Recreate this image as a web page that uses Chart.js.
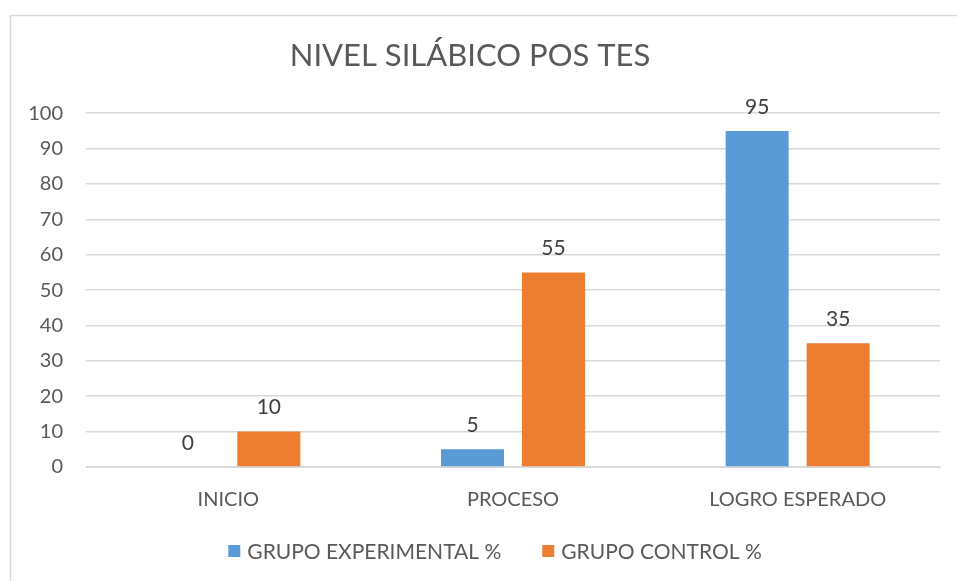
<!DOCTYPE html>
<html>
<head>
<meta charset="utf-8">
<script src="https://cdn.jsdelivr.net/npm/chart.js@4/dist/chart.umd.min.js"></script>
<style>
  html, body { margin: 0; padding: 0; background: #fff; }
  #wrap { width: 957px; height: 581px; position: relative; }
</style>
</head>
<body>
<div id="wrap"><canvas id="c" width="957" height="581"></canvas></div>
<script>
const categories = ["INICIO", "PROCESO", "LOGRO ESPERADO"];
const experimental = [0, 5, 95];
const control = [10, 55, 35];
const seriesNames = ["GRUPO EXPERIMENTAL %", "GRUPO CONTROL %"];
const seriesColors = ["#5b9bd5", "#ed7d31"];

const FONT = "Lato, 'Open Sans', sans-serif";
const TEXT = "#595959";

// frame around the chart, like the office chart border
const frame = {
  id: "frame",
  beforeDraw(chart) {
    const ctx = chart.ctx;
    ctx.save();
    ctx.strokeStyle = "#d9d9d9";
    ctx.lineWidth = 1.5;
    ctx.beginPath();
    ctx.moveTo(10.5, 600);
    ctx.lineTo(10.5, 15.5);
    ctx.lineTo(960, 15.5);
    ctx.stroke();
    ctx.restore();
  },
};

// value labels above each bar
const valueLabels = {
  id: "valueLabels",
  afterDatasetsDraw(chart) {
    const ctx = chart.ctx;
    ctx.save();
    ctx.font = "21px " + FONT;
    ctx.fillStyle = "#404040";
    ctx.textAlign = "center";
    ctx.textBaseline = "middle";
    chart.data.datasets.forEach((ds, i) => {
      chart.getDatasetMeta(i).data.forEach((bar, j) => {
        ctx.fillText(String(ds.data[j]), bar.x, bar.y - 24);
      });
    });
    ctx.restore();
  },
};

// bottom legend, spaced like the office one
const bottomLegend = {
  id: "bottomLegend",
  afterDraw(chart) {
    const ctx = chart.ctx;
    const box = 12, gap = 7, itemGap = 41, y = 551;
    ctx.save();
    ctx.font = "21px " + FONT;
    ctx.textBaseline = "middle";
    ctx.textAlign = "left";
    const items = chart.data.datasets.map((ds) => ({
      text: ds.label,
      color: ds.backgroundColor,
      w: box + gap + ctx.measureText(ds.label).width,
    }));
    const total = items.reduce((s, it) => s + it.w, 0) + itemGap * (items.length - 1);
    let x = 495 - total / 2;
    items.forEach((it) => {
      ctx.fillStyle = it.color;
      ctx.fillRect(x, y - box / 2, box, box);
      ctx.fillStyle = TEXT;
      ctx.fillText(it.text, x + box + gap, y + 1);
      x += it.w + itemGap;
    });
    ctx.restore();
  },
};

new Chart(document.getElementById("c").getContext("2d"), {
  type: "bar",
  data: {
    labels: categories,
    datasets: [
      { label: seriesNames[0], data: experimental, backgroundColor: seriesColors[0] },
      { label: seriesNames[1], data: control, backgroundColor: seriesColors[1] },
    ],
  },
  options: {
    responsive: false,
    animation: false,
    layout: { padding: { top: 15, right: 17, left: 0, bottom: 70 } },
    datasets: { bar: { categoryPercentage: 0.569, barPercentage: 0.778 } },
    plugins: {
      title: {
        display: true,
        text: "NIVEL SILÁBICO POS TES",
        color: TEXT,
        font: { family: FONT, size: 31, weight: "normal" },
        padding: { top: 22, bottom: 39 },
      },
      legend: { display: false },
      tooltip: { enabled: false },
    },
    scales: {
      x: {
        grid: { display: false },
        border: { display: true, color: "#d9d9d9" },
        ticks: { color: TEXT, font: { family: FONT, size: 20 }, padding: 13 },
        afterFit(scale) { scale.height = 44; },
      },
      y: {
        min: 0,
        max: 100,
        ticks: { stepSize: 10, color: TEXT, font: { family: FONT, size: 20 }, padding: 23 },
        grid: { color: "#d9d9d9", lineWidth: 1.5, drawTicks: false },
        border: { display: false },
        afterFit(scale) { scale.width = 86; },
      },
    },
  },
  plugins: [frame, valueLabels, bottomLegend],
});
</script>
</body>
</html>
